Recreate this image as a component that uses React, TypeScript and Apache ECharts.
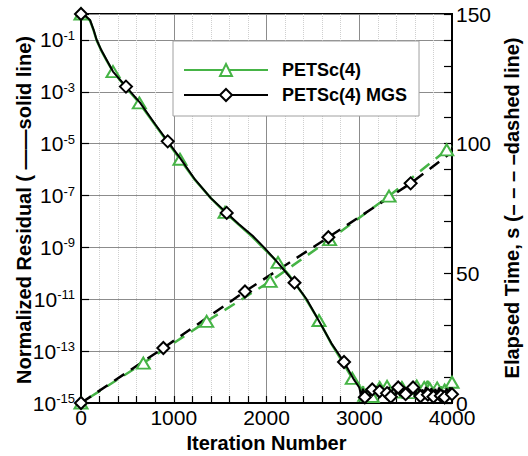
import React, { useEffect, useRef } from "react";
import * as echarts from "echarts";

const FONT = '"Liberation Sans", Arial, Helvetica, sans-serif';
const GREEN = "#46b446";
const BLACK = "#000000";

// ---- Data ----
// Residual curves: log10(normalized residual) vs iteration
const petscResIter = [0, 40, 97, 135, 169, 220, 277, 345, 485, 629, 800, 935, 1067, 1229, 1400, 1553, 1700, 1850, 1973, 2124, 2250, 2400, 2566, 2700, 2800, 2925, 3000,
  3020, 3040, 3060, 3080, 3100, 3120, 3140, 3160, 3180, 3200,
  3220, 3240, 3260, 3280, 3300, 3320, 3340, 3360, 3380, 3400,
  3420, 3440, 3460, 3480, 3500, 3520, 3540, 3560, 3580, 3600,
  3620, 3640, 3660, 3680, 3700, 3720, 3740, 3760, 3780, 3800,
  3820, 3840, 3860, 3880, 3900, 3920, 3940, 3960, 3980, 4000];
const petscResLog10 = [0, -0.06, -0.25, -0.62, -1.02, -1.42, -1.8, -2.22, -2.83, -3.43, -4.28, -4.95, -5.6, -6.4, -7.1, -7.65, -8.12, -8.6, -9.05, -9.58, -10.1, -10.85, -11.82, -12.72, -13.3, -14.05, -14.3,
  -14.55, -14.35, -14.7, -14.45, -14.6, -14.38, -14.75, -14.5, -14.42, -14.68,
  -14.4, -14.62, -14.48, -14.78, -14.36, -14.55, -14.66, -14.42, -14.58, -14.3,
  -14.7, -14.5, -14.4, -14.64, -14.8, -14.46, -14.6, -14.38, -14.72, -14.5,
  -14.35, -14.62, -14.48, -14.7, -14.4, -14.25, -14.15, -14.45, -14.6, -14.5,
  -14.7, -14.42, -14.58, -14.36, -14.66, -14.5, -14.4, -14.62, -14.3, -14.2];
const petscResMarkIter = [0, 345, 629, 1067, 1553, 2124, 2566, 2925, 3060, 3140, 3220, 3300, 3380, 3460, 3540, 3620, 3700, 3760, 3840, 3920, 4000];

const mgsResIter = [0, 40, 97, 135, 169, 220, 277, 345, 485, 636, 800, 935, 1067, 1229, 1400, 1571, 1700, 1850, 1973, 2100, 2200, 2302, 2433, 2584, 2700, 2836, 2943, 3000,
  3020, 3040, 3060, 3080, 3100, 3120, 3140, 3160, 3180, 3200,
  3220, 3240, 3260, 3280, 3300, 3320, 3340, 3360, 3380, 3400,
  3420, 3440, 3460, 3480, 3500, 3520, 3540, 3560, 3580, 3600,
  3620, 3640, 3660, 3680, 3700, 3720, 3740, 3760, 3780, 3800,
  3820, 3840, 3860, 3880, 3900, 3920, 3940, 3960, 3980, 4000];
const mgsResLog10 = [0, -0.05, -0.23, -0.6, -1.0, -1.4, -1.77, -2.22, -2.8, -3.42, -4.25, -4.91, -5.55, -6.38, -7.1, -7.67, -8.1, -8.55, -9.0, -9.5, -9.92, -10.36, -11.0, -11.95, -12.7, -13.42, -14.1, -14.4,
  -14.7, -14.45, -14.78, -14.52, -14.4, -14.72, -14.48, -14.6, -14.36, -14.74,
  -14.55, -14.42, -14.7, -14.46, -14.62, -14.38, -14.76, -14.5, -14.44, -14.68,
  -14.4, -14.72, -14.52, -14.36, -14.66, -14.78, -14.46, -14.58, -14.4, -14.7,
  -14.5, -14.42, -14.74, -14.48, -14.6, -14.38, -14.68, -14.52, -14.44, -14.76,
  -14.46, -14.62, -14.4, -14.72, -14.5, -14.78, -14.44, -14.58, -14.4, -14.66];
const mgsResMarkIter = [0, 485, 935, 1571, 2302, 2836, 3060, 3140, 3220, 3300, 3340, 3420, 3500, 3580, 3660, 3740, 3800, 3880, 3920, 4000];

// Elapsed time (s) vs iteration
const petscTimeIter = [0, 672, 1355, 2040, 2680, 3321, 3943, 4000];
const petscTime = [0, 15.4, 31.5, 46.9, 63.0, 79.8, 97.6, 99.0];
const petscTimeMarkIter = [0, 672, 1355, 2040, 2680, 3321, 3943];

const mgsTimeIter = [0, 888, 1768, 2667, 3554, 4000];
const mgsTime = [0, 21.2, 43.0, 63.9, 84.7, 96.8];
const mgsTimeMarkIter = [0, 888, 1768, 2667, 3554];

const xTickValues = [0, 1000, 2000, 3000, 4000];
const residualExponentMin = -15;
const residualExponentMax = 0;
const timeAxisMax = 150;

const SERIES_NAMES = ["PETSc(4)", "PETSc(4) MGS"];

function buildData(iters: number[], vals: number[], marks: number[], shift: number) {
  const set = new Set(marks);
  return iters.map((it, i) =>
    set.has(it)
      ? { value: [it, vals[i] + shift] }
      : { value: [it, vals[i] + shift], symbol: "none" }
  );
}

export default function App() {
  const ref = useRef<HTMLDivElement>(null);
  useEffect(() => {
    if (!ref.current) return;
    const chart = echarts.init(ref.current, undefined, { renderer: "svg" });
    const shift = -residualExponentMin; // exponent -> axis units (0..15)

    const option: any = {
      animation: false,
      backgroundColor: "#fff",
      textStyle: { fontFamily: FONT },
      grid: {
        left: 81,
        top: 14,
        right: 76,
        bottom: 53,
        show: true,
        borderColor: "#000",
        borderWidth: 2,
        outerBoundsMode: "none",
        containLabel: false,
      },
      legend: {
        data: SERIES_NAMES,
        orient: "vertical",
        left: 173,
        top: 41,
        padding: [20, 12, 12, 10],
        itemWidth: 84,
        itemHeight: 15,
        itemGap: 7,
        backgroundColor: "#fff",
        borderColor: "#a0a0a0",
        borderWidth: 1,
        borderRadius: 0,
        selectedMode: false,
        textStyle: {
          fontFamily: FONT,
          fontSize: 18,
          fontWeight: "bold",
          color: "#000",
          padding: [0, 0, 0, 9],
        },
      },
      xAxis: {
        type: "value",
        min: xTickValues[0],
        max: xTickValues[xTickValues.length - 1],
        interval: 1000,
        name: "Iteration Number",
        nameLocation: "middle",
        nameGap: 27,
        nameTextStyle: { fontFamily: FONT, fontSize: 20, fontWeight: "bold", color: "#000" },
        axisLine: { show: true, lineStyle: { color: "#000", width: 2 } },
        axisTick: { show: true, inside: true, length: 7, lineStyle: { color: "#000", width: 1.2 } },
        minorTick: { show: true, splitNumber: 5, length: 7, lineStyle: { color: "#000", width: 1.2 } },
        splitLine: { show: true, lineStyle: { color: "#8c8c8c", width: 1 } },
        minorSplitLine: { show: true, lineStyle: { color: "#cfcfcf", width: 1, type: "dotted" } },
        axisLabel: {
          fontFamily: FONT,
          fontSize: 21,
          color: "#000",
          margin: 4,
          formatter: (v: number) => String(Math.round(v)),
        },
      },
      yAxis: [
        {
          type: "value",
          position: "left",
          min: 0,
          max: residualExponentMax - residualExponentMin,
          interval: 2,
          axisLine: { show: true, lineStyle: { color: "#000", width: 2 } },
          axisTick: { show: true, inside: true, length: 8, lineStyle: { color: "#000", width: 1.2 } },
          splitLine: { show: true, lineStyle: { color: "#8c8c8c", width: 1 } },
          axisLabel: {
            margin: 6,
            color: "#000",
            formatter: (v: number) => {
              const r = Math.round(v);
              if (r % 2 !== 0 || r >= 15) return "";
              return `{b|10}{s|${r - shift}}`;
            },
            rich: {
              b: { fontFamily: FONT, fontSize: 21, color: "#000", lineHeight: 22 },
              s: { fontFamily: FONT, fontSize: 13, color: "#000", lineHeight: 13, verticalAlign: "top" },
            },
          },
        },
        {
          type: "value",
          position: "right",
          min: 0,
          max: timeAxisMax,
          interval: 50,
          axisLine: { show: true, lineStyle: { color: "#000", width: 2 } },
          axisTick: { show: true, inside: true, length: 8, lineStyle: { color: "#000", width: 1.2 } },
          minorTick: { show: true, splitNumber: 5, length: 8, lineStyle: { color: "#000", width: 1.2 } },
          splitLine: { show: false },
          axisLabel: { fontFamily: FONT, fontSize: 21, color: "#000", margin: 4 },
        },
      ],
      series: [
        {
          name: SERIES_NAMES[0],
          type: "line",
          yAxisIndex: 0,
          z: 3,
          data: buildData(petscResIter, petscResLog10, petscResMarkIter, shift),
          symbol: "emptyTriangle",
          symbolSize: [13, 11],
          showSymbol: true,
          showAllSymbol: true,
          lineStyle: { color: GREEN, width: 2.5, type: "solid" },
          itemStyle: { color: GREEN, borderWidth: 1.6 },
        },
        {
          name: SERIES_NAMES[1],
          type: "line",
          yAxisIndex: 0,
          z: 4,
          data: buildData(mgsResIter, mgsResLog10, mgsResMarkIter, shift),
          symbol: "emptyDiamond",
          symbolSize: 12,
          showSymbol: true,
          showAllSymbol: true,
          lineStyle: { color: BLACK, width: 2, type: "solid" },
          itemStyle: { color: BLACK, borderWidth: 1.6 },
        },
        {
          name: SERIES_NAMES[0],
          type: "line",
          yAxisIndex: 1,
          z: 2,
          data: buildData(petscTimeIter, petscTime, petscTimeMarkIter, 0),
          symbol: "emptyTriangle",
          symbolSize: [13, 11],
          showSymbol: true,
          showAllSymbol: true,
          lineStyle: { color: GREEN, width: 2.5, type: [12, 8], dashOffset: 9 },
          itemStyle: { color: GREEN, borderWidth: 1.6 },
        },
        {
          name: SERIES_NAMES[1],
          type: "line",
          yAxisIndex: 1,
          z: 2,
          data: buildData(mgsTimeIter, mgsTime, mgsTimeMarkIter, 0),
          symbol: "emptyDiamond",
          symbolSize: 12,
          showSymbol: true,
          showAllSymbol: true,
          lineStyle: { color: BLACK, width: 2.5, type: [12, 8], dashOffset: 0 },
          itemStyle: { color: BLACK, borderWidth: 1.6 },
        },
      ],
      graphic: [
        {
          type: "text",
          x: 24,
          y: 210,
          rotation: Math.PI / 2,
          style: {
            text: "Normalized Residual ( ——solid line)",
            fontFamily: FONT,
            fontSize: 20,
            fontWeight: "bold",
            fill: "#000",
            align: "center",
            verticalAlign: "middle",
          },
        },
        {
          type: "text",
          x: 512,
          y: 208,
          rotation: Math.PI / 2,
          style: {
            text: "Elapsed Time, s (– – – –dashed line)",
            fontFamily: FONT,
            fontSize: 20,
            fontWeight: "bold",
            fill: "#000",
            align: "center",
            verticalAlign: "middle",
          },
        },
      ],
    };
    chart.setOption(option);
    return () => chart.dispose();
  }, []);
  return (
    <div
      ref={ref}
      style={{ position: "fixed", left: 0, top: 0, width: 528, height: 456, background: "#fff" }}
    />
  );
}
